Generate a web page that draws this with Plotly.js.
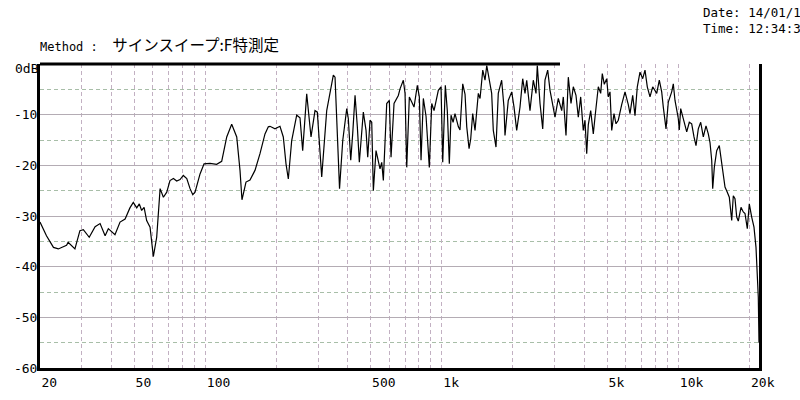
<!DOCTYPE html>
<html><head><meta charset="utf-8">
<script src="https://cdn.plot.ly/plotly-3.0.1.min.js"></script>
<style>html,body{margin:0;padding:0;background:#fff}#chart{width:800px;height:400px}</style>
</head><body><div id="chart"></div>
<script>
const freqHz = [20,21.3,22.8,23.9,25.9,26.3,28.1,29.5,30.5,32.3,
34.2,35.9,37.7,38.9,41.5,43.6,45.8,48.0,49.6,51.3,
52.6,53.8,55.1,56.5,58.4,60.3,62.3,64.4,66.5,68.7,
70.9,73.3,75.7,78.2,80.7,83.5,86.2,88.5,90.5,95.0,
98.8,104.7,111.7,117.3,123.2,129.3,135.8,140.2,142.9,148.6,
154.5,162.2,170.3,178.8,184.7,187.7,197.1,206.9,213.7,219.4,
224.4,231.9,243.5,251.4,258.1,268.4,279.9,291.0,297.6,310.6,
326.1,347.8,353.6,369.5,381.2,396.3,402.5,412.0,420.1,429.7,
439.4,448.0,465.8,478.2,486.2,497.2,505.5,513.5,527.1,539.0,
548.0,557.2,566.0,585.0,600.0,610.0,628.1,654.9,665.9,687.6,
699.1,710.8,729.0,746.2,763.1,788.0,803.5,816.9,835.4,857.7,
885.7,906.7,927.2,966.8,992.5,1009,1035,1055,1076,1094,
1116,1137,1175,1194,1226,1254,1275,1304,1325,1351,
1382,1427,1451,1490,1523,1549,1588,1625,1651,1695,
1733,1791,1832,1850,1910,1975,2020,2073,2141,2198,
2248,2286,2360,2437,2502,2534,2602,2671,2731,2804,
2868,2944,3011,3109,3214,3264,3351,3427,3518,3598,
3693,3777,3866,3965,4032,4099,4163,4262,4371,4444,
4589,4697,4771,4865,4980,5058,5143,5229,5347,5452,
5576,5763,5952,6146,6249,6415,6560,6709,6887,7071,
7231,7395,7592,7794,8104,8311,8508,8641,8872,9073,
9378,9525,9684,9846,10001,10098,10237,10469,10675,10853,
11131,11394,11652,11881,12150,12438,12756,13096,13393,13616,
13844,13979,14199,14534,14907,15156,15409,15758,16114,16431,
16820,17084,17369,17659,17936,18414,18830,19145,19578,19961,
20434,20896,21308,21578,21790,21938];

const levelDb = [-31.2,-33.9,-36.2,-36.5,-35.8,-35.2,-36.5,-32.9,-32.7,-34.2,
-32.1,-31.5,-33.9,-32.5,-33.7,-31.2,-30.6,-28.4,-27.3,-28.4,
-27.6,-28.9,-28.3,-30.9,-32.2,-38.0,-34.2,-24.6,-26.3,-25.3,
-23.0,-22.6,-23.1,-22.8,-22.0,-22.6,-24.6,-25.8,-25.3,-21.7,
-19.7,-19.6,-19.8,-19.2,-14.4,-11.9,-14.4,-21.0,-26.8,-23.3,
-22.9,-21.0,-17.7,-13.8,-12.4,-12.3,-12.8,-12.3,-14.4,-19.7,
-22.7,-15.1,-10.1,-10.6,-17.1,-5.9,-14.4,-9.2,-9.5,-22.3,
-9.2,-2.2,-2.6,-24.6,-15.1,-8.8,-10.8,-19.0,-13.7,-6.2,
-12.4,-19.4,-9.5,-13.1,-18.4,-11.1,-11.5,-25.0,-17.1,-19.4,
-20.7,-19.4,-23.0,-7.8,-7.2,-18.4,-7.8,-6.2,-4.9,-3.2,
-5.8,-20.4,-6.5,-7.5,-8.5,-4.2,-6.5,-19.0,-6.8,-10.3,
-20.4,-7.8,-9.2,-5.2,-4.5,-19.4,-4.2,-9.2,-19.7,-10.1,
-11.5,-9.8,-12.4,-13.0,-3.9,-6.0,-12.4,-16.7,-14.8,-9.8,
-13.1,-5.8,-6.8,-1.2,-3.2,-0.3,-3.2,-5.8,-13.1,-16.4,
-5.8,-3.2,-8.5,-14.1,-7.2,-5.5,-8.5,-13.1,-8.5,-2.9,
-5.8,-3.2,-9.2,-3.2,-5.8,-0.3,-7.8,-12.8,-3.2,-1.2,
-5.2,-7.8,-10.5,-6.8,-9.2,-6.5,-14.1,-2.6,-7.8,-4.5,
-6.2,-10.5,-6.5,-13.1,-11.1,-17.7,-12.0,-9.2,-13.8,-10.5,
-4.5,-5.8,-1.9,-4.0,-2.9,-6.5,-5.5,-13.1,-9.8,-11.8,
-11.1,-8.0,-5.5,-8.0,-9.8,-6.2,-10.2,-4.5,-1.6,-2.9,
-1.2,-4.5,-6.5,-4.5,-5.8,-3.2,-5.5,-8.5,-12.8,-7.5,
-5.5,-3.9,-7.2,-9.0,-10.8,-13.0,-8.8,-10.6,-12.4,-13.4,
-11.5,-11.8,-14.4,-16.1,-12.8,-11.5,-14.4,-12.2,-13.8,-15.5,
-19.0,-24.6,-20.4,-17.1,-16.1,-18.6,-21.7,-24.3,-25.3,-26.3,
-30.9,-26.0,-26.6,-30.2,-31.0,-28.3,-29.2,-29.5,-32.5,-27.6,
-30.2,-32.2,-36.2,-40.8,-46.0,-55.0];

const xLabelVals = [20,50,100,500,1000,5000,10000,20000];
const xLabelText = ['20','50','100','500','1k','5k','10k','20k'];
const xSolidGrid = [100,1000,10000];
const xDashGrid = [20,30,40,50,60,70,80,90,100,200,300,400,500,600,700,800,900,1000,2000,3000,4000,5000,6000,7000,8000,9000,10000,20000];
const yLabelVals = [-60,-50,-40,-30,-20,-10];
const yLabelText = ['-60','-50','-40','-30','-20','-10'];
const yDashGrid = [-55,-45,-35,-25,-15,-5];
const yTopLabel = '0dB';
const titleMethod = 'Method :&nbsp;&nbsp;';
const titleJa = 'サインスイープ:F特測定';
const dateText = 'Date: 14/01/1';
const timeText = 'Time: 12:34:3';
const xMin = 20, xMax = 21940, yMin = -60, yMax = 0;

const mono = 'DejaVu Sans Mono, Liberation Mono, monospace';
const xRange = [Math.log10(xMin), Math.log10(xMax)];
const xTickText = xDashGrid.map(v => {
  const i = xLabelVals.indexOf(v);
  return i >= 0 ? xLabelText[i] : '';
});

const trace = {
  x: freqHz, y: levelDb, type: 'scatter', mode: 'lines',
  line: {color: '#000', width: 1.2}, hoverinfo: 'skip'
};

const layout = {
  width: 800, height: 400,
  margin: {l: 40, r: 41, t: 64, b: 32, pad: 0},
  paper_bgcolor: '#fff', plot_bgcolor: '#fff',
  showlegend: false,
  font: {family: mono, size: 13, color: '#000'},
  title: {
    text: titleMethod + '<span style="font-family:Noto Sans CJK JP;font-size:15.5px">' + titleJa + '</span>',
    x: 40/800, xanchor: 'left', xref: 'container',
    y: 1 - 47/400, yanchor: 'middle', yref: 'container',
    font: {family: mono, size: 12, color: '#000'}
  },
  xaxis: {
    type: 'log', range: xRange, tickmode: 'array', tickvals: xDashGrid, ticktext: xTickText,
    ticklabelposition: 'outside right', ticks: '',
    showgrid: true, gridcolor: '#c2b0c2', griddash: '4px,3px', gridwidth: 1,
    showline: true, linewidth: 3, linecolor: '#000', zeroline: false,
    tickfont: {family: mono, size: 13, color: '#000'},
    minor: {tickmode: 'array', tickvals: xSolidGrid, showgrid: true, gridcolor: '#b4acb4', gridwidth: 1, ticks: ''},
    fixedrange: true
  },
  yaxis: {
    range: [yMin, yMax], tickmode: 'array', tickvals: yLabelVals, ticktext: yLabelText,
    ticks: '', ticklabelstandoff: -3, showgrid: true, gridcolor: '#b4acb4', gridwidth: 1,
    showline: true, linewidth: 3, linecolor: '#000', mirror: true, zeroline: false,
    tickfont: {family: mono, size: 13, color: '#000'},
    minor: {tickmode: 'array', tickvals: yDashGrid, showgrid: true, gridcolor: '#a8bea8', griddash: '4px,3px', gridwidth: 1, ticks: ''},
    fixedrange: true
  },
  shapes: [
    {type: 'line', xref: 'paper', yref: 'paper', x0: 0, x1: 520/719, y0: 1, y1: 1, line: {color: '#000', width: 3}}
  ],
  annotations: [
    {text: yTopLabel, xref: 'paper', yref: 'y', x: -27/719, y: yMax, xanchor: 'left', yanchor: 'middle', yshift: -4, showarrow: false, font: {family: mono, size: 13, color: '#000'}},
    {text: dateText + '<br>' + timeText, xref: 'paper', yref: 'paper', x: 661/719, y: (368-20)/304, xanchor: 'left', yanchor: 'middle', align: 'left', showarrow: false, font: {family: mono, size: 12.5, color: '#000'}}
  ]
};

Plotly.newPlot('chart', [trace], layout, {staticPlot: true, displayModeBar: false});
</script>
</body></html>
